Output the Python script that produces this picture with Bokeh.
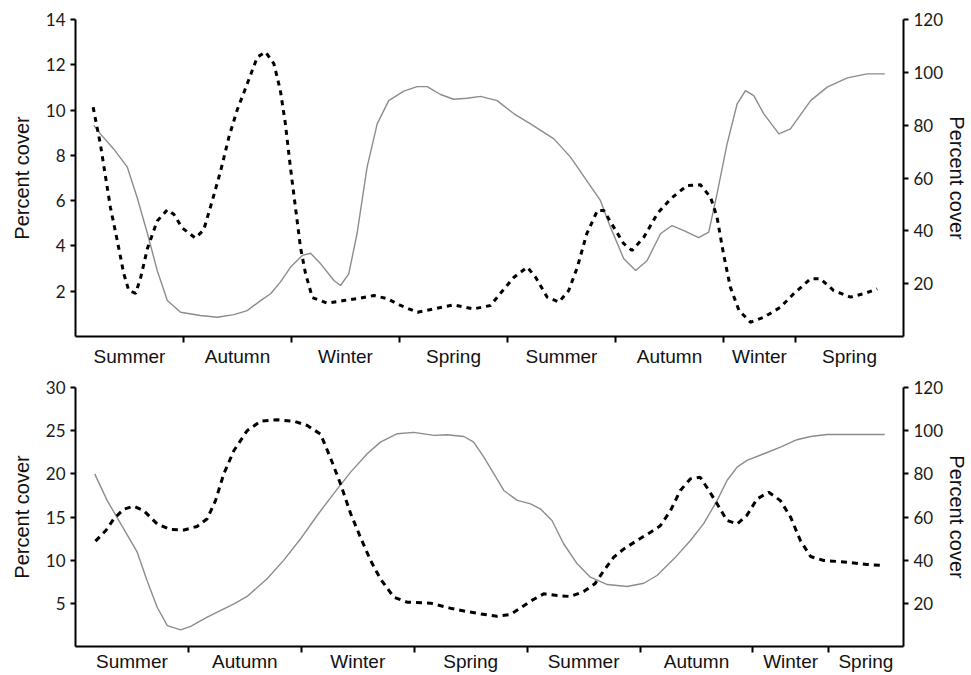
from bokeh.plotting import figure
from bokeh.models import Range1d, LinearAxis, FixedTicker
from bokeh.layouts import column
from bokeh.embed import file_html
from bokeh.resources import INLINE

# ---- data (x in months from start of record) ----
seasons = ["Summer", "Autumn", "Winter", "Spring", "Summer", "Autumn", "Winter", "Spring"]
top_bounds = [3, 6, 9, 12, 15, 18, 20]
top_label_pos = [1.5, 4.5, 7.5, 10.5, 13.5, 16.5, 19, 21.5]
bot_bounds = [3, 6, 9, 12, 15, 18, 20]
bot_label_pos = [1.5, 4.5, 7.5, 10.5, 13.5, 16.5, 19, 21]

top_left_ticks = [2, 4, 6, 8, 10, 12, 14]
bot_left_ticks = [5, 10, 15, 20, 25, 30]
right_ticks = [20, 40, 60, 80, 100, 120]

# top panel, dashed series (left axis)
top_dash_x = [0.49, 0.69, 0.97, 1.16, 1.34, 1.48, 1.67, 1.81, 2.0, 2.27, 2.55, 2.73, 2.96, 3.33, 3.56,
              3.8, 4.03, 4.26, 4.49, 4.77, 5.05, 5.28, 5.51, 5.69, 5.83, 5.97, 6.11, 6.25, 6.39, 6.58,
              7.0, 7.45, 7.9, 8.29, 8.66, 9.03, 9.5, 9.96, 10.5, 11.06, 11.53, 11.8, 12.18, 12.55, 12.78,
              13.1, 13.43, 13.7, 13.94, 14.2, 14.5, 14.67, 14.95, 15.23, 15.46, 15.79, 16.16, 16.53, 16.99,
              17.36, 17.64, 17.82, 18.0, 18.19, 18.43, 18.75, 19.12, 19.58, 19.95, 20.42, 20.69, 21.06,
              21.53, 21.9, 22.27]
top_dash_y = [10.13, 8.5, 5.7, 4.24, 2.78, 2.03, 1.9, 2.6, 3.9, 5.1, 5.6, 5.4, 4.8, 4.35, 4.7,
              6.0, 7.3, 8.8, 10.0, 11.16, 12.34, 12.56, 12.05, 10.87, 9.4, 7.47, 5.7, 3.93, 2.78, 1.72,
              1.47, 1.59, 1.69, 1.81, 1.67, 1.37, 1.07, 1.22, 1.4, 1.22, 1.37, 1.9, 2.62, 3.06, 2.62,
              1.74, 1.52, 2.03, 3.06, 4.53, 5.57, 5.57, 4.83, 4.1, 3.8, 4.39, 5.42, 6.08, 6.67,
              6.7, 6.15, 5.27, 3.65, 2.18, 1.15, 0.63, 0.85, 1.29, 1.89, 2.55, 2.55, 2.03,
              1.74, 1.89, 2.1]

# top panel, solid series (right axis)
top_solid_x = [0.51, 0.69, 1.06, 1.44, 1.71, 2.0, 2.27, 2.55, 2.92, 3.47, 3.94, 4.4, 4.77, 5.14, 5.42,
               5.69, 5.97, 6.3, 6.53, 6.81, 7.18, 7.36, 7.59, 7.82, 8.1, 8.38, 8.7, 9.12, 9.49, 9.77,
               10.14, 10.5, 10.88, 11.25, 11.71, 12.18, 12.64, 13.29, 13.75, 14.2, 14.58, 14.86, 15.23,
               15.56, 15.88, 16.25, 16.57, 16.9, 17.31, 17.59, 17.82, 18.1, 18.38, 18.61, 18.84, 19.12,
               19.54, 19.86, 20.42, 20.88, 21.44, 21.99, 22.48]
top_solid_y = [79.9, 76.7, 71.0, 64.1, 52.7, 38.9, 25.0, 13.6, 9.2, 7.95, 7.3, 8.3, 9.8, 13.6, 16.2,
               20.6, 26.2, 30.7, 31.5, 27.5, 21.2, 19.3, 23.7, 38.9, 64.1, 80.5, 89.3, 92.9, 94.6, 94.6,
               91.6, 89.8, 90.2, 90.9, 89.3, 84.3, 80.5, 74.8, 67.9, 59.0, 51.5, 41.4, 29.4,
               25.0, 28.8, 38.9, 42.0, 40.1, 37.4, 39.5, 54.0, 72.9, 88.1, 93.1, 91.2, 84.3,
               76.7, 78.6, 89.3, 94.4, 97.9, 99.4, 99.4]

# bottom panel, dashed series (left axis)
bot_dash_x = [0.53, 0.8, 1.02, 1.28, 1.55, 1.81, 2.17, 2.52, 2.88, 3.23, 3.5, 3.72, 3.94, 4.21, 4.56,
              4.92, 5.36, 5.8, 6.16, 6.51, 6.77, 7.04, 7.31, 7.57, 7.84, 8.1, 8.46, 8.81, 9.43, 9.96,
              10.4, 10.76, 11.2, 11.56, 11.82, 12.09, 12.44, 12.8, 13.15, 13.5, 13.8, 14.04, 14.3, 14.57,
              14.92, 15.28, 15.54, 15.81, 16.07, 16.34, 16.6, 16.83, 17.05, 17.31, 17.58, 17.84, 18.11,
              18.42, 18.73, 19.0, 19.26, 19.53, 19.88, 20.5, 21.03, 21.47]
bot_dash_y = [12.2, 13.4, 14.8, 15.9, 16.25, 15.75, 14.2, 13.55, 13.5, 13.9, 14.8, 16.9, 20.0, 22.7, 25.0,
              26.1, 26.26, 26.1, 25.6, 24.6, 21.9, 18.85, 15.4, 12.66, 9.96, 7.84, 5.71, 5.13, 5.02, 4.44,
              4.05, 3.78, 3.51, 3.71, 4.44, 5.25, 6.1, 5.9, 5.79, 6.37, 7.26, 8.8, 10.34, 11.3,
              12.28, 13.24, 14.0, 15.75, 18.07, 19.42, 19.6, 18.07, 16.5, 14.6, 14.2, 15.2, 17.1,
              17.87, 16.9, 14.98, 12.28, 10.42, 9.96, 9.77, 9.5, 9.38]

# bottom panel, solid series (right axis)
bot_solid_x = [0.51, 0.84, 1.2, 1.64, 1.9, 2.17, 2.44, 2.79, 3.06, 3.5, 4.21, 4.56, 5.09, 5.53, 5.98,
               6.42, 6.86, 7.31, 7.75, 8.1, 8.55, 8.99, 9.52, 9.87, 10.32, 10.58, 10.85, 11.03, 11.38,
               11.74, 12.09, 12.35, 12.66, 12.97, 13.33, 13.68, 14.13, 14.66, 15.1, 15.45, 15.9, 16.34,
               16.69, 17.05, 17.31, 17.58, 17.84, 18.29, 18.73, 19.17, 19.53, 19.97, 20.5, 21.5]
bot_solid_y = [80.0, 67.7, 56.9, 43.7, 30.6, 18.2, 9.7, 7.7, 9.3, 13.6, 19.8, 23.2, 31.4, 39.9, 49.9,
               60.7, 70.8, 80.8, 89.3, 94.7, 98.6, 99.2, 97.8, 98.1, 97.3, 94.7, 87.7, 82.5, 72.3,
               67.7, 66.1, 63.8, 58.4, 47.6, 38.3, 32.1, 28.7, 27.8, 29.3, 32.9, 40.6, 49.1,
               56.9, 67.7, 76.9, 83.1, 86.2, 89.3, 92.4, 95.8, 97.3, 98.2, 98.2, 98.2]

TITLE_FONT = "Liberation Sans"
NUM_FONT = "Lato"


def style_y(ax, ticks):
    ax.ticker = FixedTicker(ticks=ticks, minor_ticks=[])
    ax.axis_line_width = 2
    ax.axis_line_color = "black"
    ax.major_tick_out = 5
    ax.major_tick_in = 0
    ax.major_tick_line_width = 2
    ax.major_tick_line_color = "black"
    ax.minor_tick_line_color = None
    ax.major_label_text_font = NUM_FONT
    ax.major_label_text_font_size = "17px"
    ax.major_label_text_color = "#1a1a1a"
    ax.axis_label = "Percent cover"
    ax.axis_label_text_font = TITLE_FONT
    ax.axis_label_text_font_size = "20px"
    ax.axis_label_text_font_style = "normal"
    ax.axis_label_text_color = "#111111"


def make_panel(height, x_end, left_end, left_ticks, bounds, label_pos, min_top, min_bottom, standoff,
               dx, dy, sx, sy, dash):
    p = figure(width=971, height=height, x_range=Range1d(0, x_end), y_range=Range1d(0, left_end),
               output_backend="svg", toolbar_location=None,
               min_border_left=75, min_border_right=66, min_border_top=min_top,
               min_border_bottom=min_bottom)
    p.extra_y_ranges = {"r": Range1d(0, 120)}
    p.outline_line_color = None
    p.grid.visible = False
    p.background_fill_color = "white"

    xa = p.xaxis[0]
    xa.ticker = FixedTicker(ticks=label_pos, minor_ticks=bounds)
    xa.major_label_overrides = {pos: name for pos, name in zip(label_pos, seasons)}
    xa.axis_line_width = 2
    xa.axis_line_color = "black"
    xa.major_tick_out = 0
    xa.major_tick_in = 0
    xa.major_tick_line_color = None
    xa.minor_tick_out = 6
    xa.minor_tick_in = 0
    xa.minor_tick_line_width = 2
    xa.minor_tick_line_color = "black"
    xa.major_label_text_font = TITLE_FONT
    xa.major_label_text_font_size = "19px"
    xa.major_label_text_color = "#111111"
    xa.major_label_standoff = standoff

    style_y(p.yaxis[0], left_ticks)
    p.yaxis[0].axis_label_standoff = 10
    p.yaxis[0].major_label_standoff = 5

    ra = LinearAxis(y_range_name="r")
    style_y(ra, right_ticks)
    ra.axis_label_standoff = 0
    ra.major_label_standoff = 5
    p.add_layout(ra, "right")

    p.line(sx, sy, y_range_name="r", line_color="#8c8c8c", line_width=1.4)
    p.line(dx, dy, line_color="black", line_width=3, line_dash=dash)
    return p


top = make_panel(376, 23, 14, top_left_ticks, top_bounds, top_label_pos, 19, 40, 3,
                 top_dash_x, top_dash_y, top_solid_x, top_solid_y, "5 5")
bottom = make_panel(299, 22, 30, bot_left_ticks, bot_bounds, bot_label_pos, 11, 29, -2,
                    bot_dash_x, bot_dash_y, bot_solid_x, bot_solid_y, "6 5")

layout = column(top, bottom, spacing=0)
open("out.html", "w").write(file_html(layout, INLINE))
